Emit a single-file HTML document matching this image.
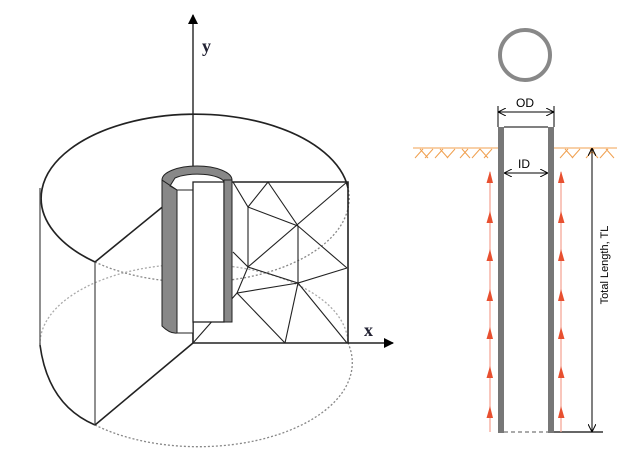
<!DOCTYPE html>
<html><head><meta charset="utf-8"><style>
html,body{margin:0;padding:0;background:#fff;width:631px;height:473px;overflow:hidden}
</style></head><body>
<svg width="631" height="473" viewBox="0 0 631 473" xmlns="http://www.w3.org/2000/svg" font-family="Liberation Sans, sans-serif">
<defs>
<marker id="ab" markerWidth="10" markerHeight="10" refX="9" refY="5" orient="auto" markerUnits="userSpaceOnUse"><path d="M0,0 L10,5 L0,10 z" fill="#000"/></marker>
<marker id="as" markerWidth="8" markerHeight="8" refX="7" refY="4" orient="auto" markerUnits="userSpaceOnUse"><path d="M0,0 L8,4 L0,8" fill="none" stroke="#000" stroke-width="1"/></marker>
</defs>
<g fill="none" stroke="#222" stroke-width="1.3">
<path d="M95,262 A154,84 0 0,0 348,188" stroke="#888" stroke-dasharray="2,2"/>
<path d="M40,345 A154,80 0 0,1 348,343" stroke="#aaa" stroke-dasharray="2,2"/>
<path d="M95,425 A154,84 0 0,0 348,343" stroke="#888" stroke-dasharray="2,2"/>
<path d="M95,262 A154,84 0 1,1 348,188" stroke-width="1.7"/>
<line x1="40" y1="188" x2="40" y2="345" stroke="#555"/>
<path d="M40,345 Q48,405 95,425" stroke-width="1.6"/>
<line x1="95" y1="262" x2="95" y2="425" stroke="#555"/>
<line x1="95" y1="262" x2="193" y2="182" stroke-width="1.6"/>
<line x1="95" y1="425" x2="193" y2="343" stroke-width="1.6"/>
<path d="M193,182 H348 V343 H193 Z" stroke-width="1.6"/>
<line x1="348" y1="343" x2="393" y2="343" stroke-width="1.4" marker-end="url(#ab)"/>
<line x1="193" y1="182" x2="193" y2="15" stroke-width="1.4" marker-end="url(#ab)"/>
<g stroke-width="1.1">
<path d="M233,182 L248,207 L268,182 L298,226 L248,207 L248,267"/>
<path d="M347,182 L248,267"/>
<path d="M298,226 L347,268 M298,226 L298,283"/>
<path d="M248,267 L298,283 L347,268"/>
<path d="M233,252 L248,267 L237,293 L298,283 L285,343 M237,293 L285,343 M298,283 L347,343 M193,343 L237,293"/>
</g>
</g>
<g stroke="#222" stroke-width="1">
<path d="M162,180 A35,13 0 0,1 232,180 L232,322 L162,322 Z" fill="#fff" stroke="none"/>
<path d="M162,180 L162,326 Q170,334 177,333 L177,190 Z" fill="#888"/>
<rect x="177" y="190" width="16" height="143" fill="#fff"/>
<path d="M162,180 A35,14 0 0,1 232,180 L224,182 A27,9 0 0,0 175,178 L170,186 L177,190 Z" fill="#888"/>
<rect x="193" y="182" width="31" height="140" fill="#fff" stroke-width="1.3"/>
<rect x="224" y="180" width="8" height="142" fill="#888"/>
</g>
<text x="202" y="52" font-family="Liberation Serif, serif" font-weight="bold" font-size="18" fill="#223">y</text>
<text x="364" y="336" font-family="Liberation Serif, serif" font-weight="bold" font-size="18" fill="#223">x</text>
<circle cx="525" cy="55" r="25" fill="none" stroke="#888" stroke-width="4"/>
<g stroke="#f0a050" stroke-width="1">
<line x1="413" y1="148" x2="498" y2="148"/>
<line x1="554" y1="148" x2="617" y2="148"/>
<path d="M415,158 l8,-9 M425,158 l8,-9 M435,158 l8,-9 M447,158 l8,-9 M460,158 l8,-9 M472,158 l8,-9 M484,158 l8,-9 M420,149 l8,9 M440,149 l8,9 M462,149 l8,9 M480,149 l8,9 M560,158 l8,-9 M572,158 l8,-9 M586,158 l8,-9 M600,158 l8,-9 M565,149 l8,9 M590,149 l8,9 M606,149 l8,9"/>
</g>
<rect x="498" y="127" width="6" height="306" fill="#777"/>
<rect x="548" y="127" width="6" height="306" fill="#777"/>
<line x1="504" y1="127" x2="548" y2="127" stroke="#000" stroke-width="1"/>
<line x1="504" y1="432" x2="548" y2="432" stroke="#555" stroke-dasharray="4,3"/>
<line x1="554" y1="432" x2="603" y2="432" stroke="#333" stroke-width="1.5"/>
<line x1="498" y1="106" x2="498" y2="127" stroke="#000"/>
<line x1="554" y1="106" x2="554" y2="127" stroke="#000"/>
<line x1="526" y1="112" x2="499" y2="112" stroke="#000" marker-end="url(#as)"/>
<line x1="526" y1="112" x2="553" y2="112" stroke="#000" marker-end="url(#as)"/>
<text x="525" y="107" font-size="12" text-anchor="middle">OD</text>
<line x1="526" y1="173" x2="505" y2="173" stroke="#000" marker-end="url(#as)"/>
<line x1="526" y1="173" x2="547" y2="173" stroke="#000" marker-end="url(#as)"/>
<text x="524" y="168" font-size="12" text-anchor="middle">ID</text>
<line x1="592" y1="290" x2="592" y2="149" stroke="#000" marker-end="url(#as)"/>
<line x1="592" y1="290" x2="592" y2="431" stroke="#000" marker-end="url(#as)"/>
<text transform="translate(608,265) rotate(-90)" font-size="11" text-anchor="middle">Total Length, TL</text>
<line x1="490" y1="172" x2="490" y2="432" stroke="#f5a090" stroke-width="1.2"/>
<line x1="561" y1="172" x2="561" y2="432" stroke="#f5a090" stroke-width="1.2"/>
<g fill="#e85030" stroke="none">
<path d="M486.5,183 L490,171 L493,183 Z M486.5,223 L490,211 L493,223 Z M486.5,261 L490,249 L493,261 Z M486.5,301 L490,289 L493,301 Z M486.5,339 L490,327 L493,339 Z M486.5,378 L490,366 L493,378 Z M486.5,418 L490,406 L493,418 Z"/>
<path d="M558,183 L561,171 L564.5,183 Z M558,223 L561,211 L564.5,223 Z M558,261 L561,249 L564.5,261 Z M558,301 L561,289 L564.5,301 Z M558,339 L561,327 L564.5,339 Z M558,378 L561,366 L564.5,378 Z M558,418 L561,406 L564.5,418 Z"/>
</g>
</svg>
</body></html>
